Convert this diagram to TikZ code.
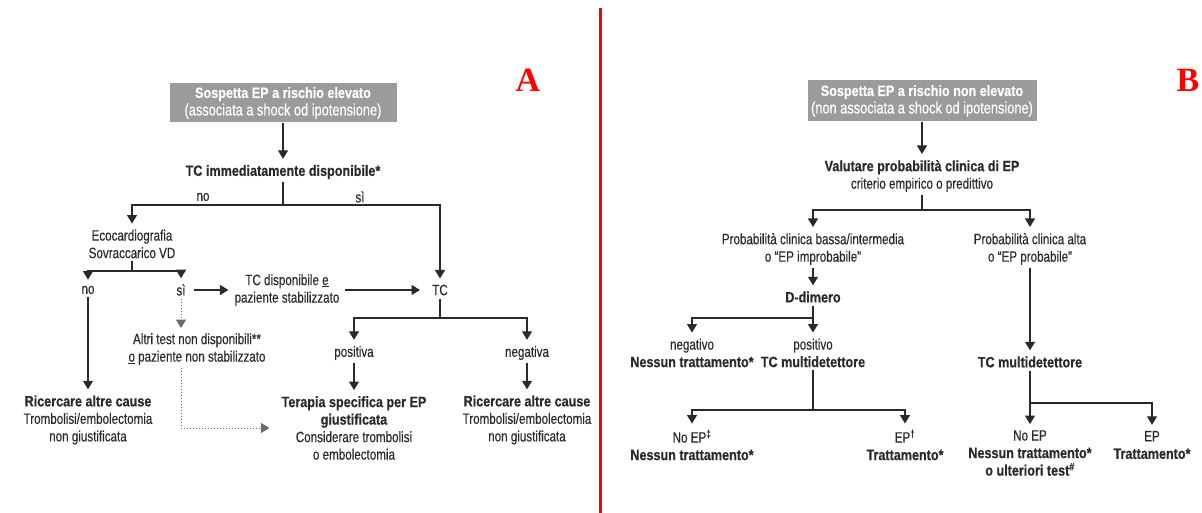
\documentclass[tikz,border=0pt]{standalone}
\usepackage{fontspec}
\setmainfont{Liberation Sans}[FakeStretch=0.775, FakeBold=0.35, BoldFeatures={FakeStretch=0.84, FakeBold=0.5}]
\newfontfamily\panelfont{Liberation Serif}
\usetikzlibrary{positioning, arrows.meta}
\definecolor{ink}{HTML}{2A2A2A}
\definecolor{boxgray}{HTML}{9B9B9B}
\definecolor{panelred}{HTML}{FF0000}

\begin{document}
\begin{tikzpicture}[x=1pt, y=-1pt, on grid,
    txt/.style={align=center, inner sep=3pt, text=ink, font=\fontsize{15}{17.5}\selectfont},
    hd/.style={txt, font=\fontsize{15}{17.5}\selectfont\bfseries},
    box/.style={fill=boxgray, text=white, align=center, minimum width=227pt, minimum height=39pt, inner sep=2pt, font=\fontsize{15}{17.5}\selectfont},
    link/.style={draw=ink, line width=1.3pt, shorten >=3pt, -{Triangle[width=10pt,length=8.5pt]}},
    plain/.style={draw=ink, line width=1.3pt},
    dots/.style={draw=ink!70, line width=1pt, dotted, shorten >=9pt, -{Triangle[width=10pt,length=8.5pt]}},
    panel/.style={text=panelred, font=\panelfont\bfseries\fontsize{34}{34}\selectfont}]
    \useasboundingbox (0,0) rectangle (1202,513);

    % A: rischio elevato
    \node[box] (boxA) at (283,103) {\textbf{Sospetta EP a rischio elevato}\\{\fontsize{16.5}{17.5}\selectfont(associata a shock od ipotensione)}};
    \node[panel] (panA) at (528,80) {A};
    \node[hd, below=69pt of boxA] (tcImm) {TC immediatamente disponibile*};
    \coordinate[below=33pt of tcImm] (splitA);
    \node[txt, below left=25pt and 80pt of tcImm] (labNo) {no};
    \node[txt, below right=25pt and 77pt of tcImm] (labSi) {sì};
    \node[txt, below left=72pt and 151pt of tcImm] (eco) {Ecocardiografia\\Sovraccarico VD};
    \node[txt, below right=118pt and 157pt of tcImm] (tc) {TC};
    \coordinate[below=27pt of eco] (splitB);
    \node[txt, below left=46pt and 44pt of eco] (no2) {no};
    \node[txt, below right=46pt and 49pt of eco] (si2) {sì};
    \node[txt, right=106pt of si2] (tcDisp) {TC disponibile \underline{e}\\paziente stabilizzato};
    \node[txt, below right=59pt and 16pt of si2] (altri) {Altri test non disponibili**\\\underline{o} paziente non stabilizzato};
    \node[txt, below=130pt of no2] (riceA) {\textbf{Ricercare altre cause}\\Trombolisi/embolectomia\\non giustificata};
    \coordinate[below=28pt of tc] (splitC);
    \node[txt, below left=63pt and 86pt of tc] (pos) {positiva};
    \node[txt, below right=63pt and 87pt of tc] (neg) {negativa};
    \node[txt, below=75pt of pos] (terapia) {\textbf{Terapia specifica per EP}\\\textbf{giustificata}\\Considerare trombolisi\\o embolectomia};
    \node[txt, below=67pt of neg] (riceB) {\textbf{Ricercare altre cause}\\Trombolisi/embolectomia\\non giustificata};
    \coordinate (bendA) at (si2 |- terapia);

    \draw[link] (boxA) -- (tcImm);
    \draw[plain] (tcImm) -- (splitA);
    \draw[link] (splitA) -| (eco);
    \draw[link] (splitA) -| (tc);
    \draw[plain] (eco) -- (splitB);
    \draw[link] (splitB) -| (no2);
    \draw[link] (splitB) -| (si2);
    \draw[link, shorten <=5pt] (si2) -- (tcDisp);
    \draw[link, shorten <=2pt, shorten >=9pt] (tcDisp) -- (tc);
    \draw[dots, shorten >=2pt] (si2) -- (si2 |- altri.north);
    \draw[dots] (si2 |- altri.south) -- (bendA) -- (terapia);
    \draw[link] (no2) -- (riceA);
    \draw[plain] (tc) -- (splitC);
    \draw[link] (splitC) -| (pos);
    \draw[link] (splitC) -| (neg);
    \draw[link] (pos) -- (terapia);
    \draw[link] (neg) -- (riceB);

    % separatore
    \draw[panelred, line width=3pt] (600,8) -- (600,513);

    % B: rischio non elevato
    \node[box, minimum width=229pt, minimum height=41pt] (boxB) at (922,101) {\textbf{Sospetta EP a rischio non elevato}\\{\fontsize{16.5}{17.5}\selectfont(non associata a shock od ipotensione)}};
    \node[panel] (panB) at (1188,80) {B};
    \node[txt, below=75pt of boxB] (valut) {\textbf{Valutare probabilità clinica di EP}\\criterio empirico o predittivo};
    \coordinate[below=34pt of valut] (splitD);
    \node[txt, below left=73pt and 109pt of valut] (probLow) {Probabilità clinica bassa/intermedia\\o “EP improbabile”};
    \node[txt, below right=73pt and 108pt of valut] (probHigh) {Probabilità clinica alta\\o “EP probabile”};
    \node[hd, below=48pt of probLow] (ddim) {D-dimero};
    \coordinate[below=21pt of ddim] (splitE);
    \node[txt, below=56pt of ddim] (posB) {positivo\\\textbf{TC multidetettore}};
    \node[txt, left=121pt of posB] (negB) {negativo\\\textbf{Nessun trattamento*}};
    \coordinate[below=57pt of posB] (splitF);
    \node[txt, below left=92pt and 121pt of posB] (noEPa) {No EP\textsuperscript{‡}\\\textbf{Nessun trattamento*}};
    \node[txt, below right=92pt and 92pt of posB] (EPa) {EP\textsuperscript{†}\\\textbf{Trattamento*}};
    \node[hd, below=113pt of probHigh] (tcmB) {TC multidetettore};
    \coordinate[below=41pt of tcmB] (splitG);
    \node[txt, below=91pt of tcmB] (noEPb) {No EP\\\textbf{Nessun trattamento*}\\\textbf{o ulteriori test\textsuperscript{\#}}};
    \node[txt, above right=8pt and 122pt of noEPb] (EPb) {EP\\\textbf{Trattamento*}};

    \draw[link] (boxB) -- (valut);
    \draw[plain] (valut) -- (splitD);
    \draw[link] (splitD) -| (probLow);
    \draw[link] (splitD) -| (probHigh);
    \draw[link] (probLow) -- (ddim);
    \draw[plain] (ddim) -- (splitE);
    \draw[link] (splitE) -| (negB);
    \draw[link] (splitE) -- (posB);
    \draw[plain] (posB) -- (splitF);
    \draw[link] (splitF) -| (noEPa);
    \draw[link] (splitF) -| (EPa);
    \draw[link] (probHigh) -- (tcmB);
    \draw[link] (tcmB) -- (noEPb);
    \draw[link] (splitG) -| (EPb);
\end{tikzpicture}
\end{document}
